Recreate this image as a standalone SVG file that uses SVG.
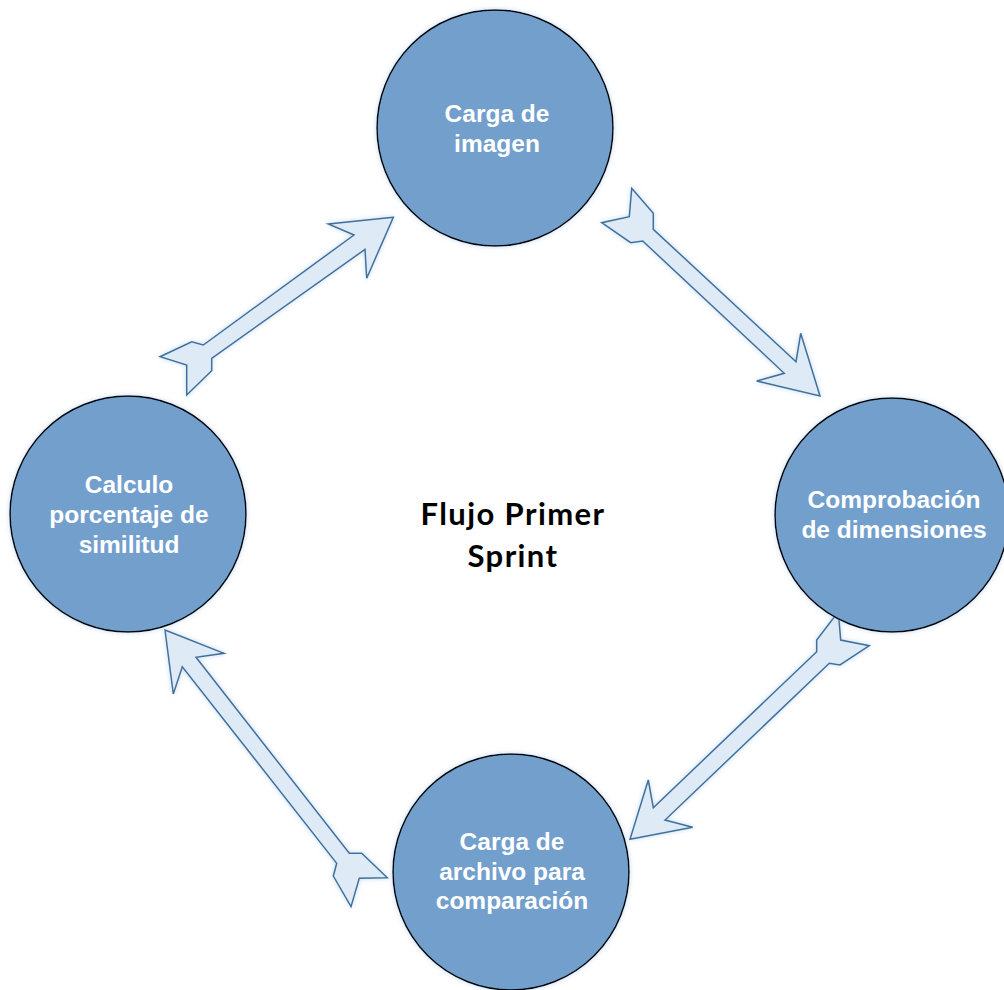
<svg xmlns="http://www.w3.org/2000/svg" width="1004" height="990" viewBox="0 0 1004 990">
  <defs>
    <filter id="glow" x="-20%" y="-20%" width="140%" height="140%">
      <feGaussianBlur in="SourceAlpha" stdDeviation="2.5" result="b"/>
      <feFlood flood-color="#9DC3E6" flood-opacity="0.6"/>
      <feComposite in2="b" operator="in" result="s"/>
      <feMerge><feMergeNode in="s"/><feMergeNode in="SourceGraphic"/></feMerge>
    </filter>
  </defs>
  <style>
    .node circle { fill: #739FCD; stroke: #000000; stroke-width: 1.5; filter: url(#glow); }
    .node text { font-family: "Liberation Sans", Arial, sans-serif; font-weight: bold; font-size: 24.5px; fill: #FFFFFF; text-anchor: middle; }
    .arrow { fill: #DEEAF6; stroke: #41719C; stroke-width: 1.5; stroke-linejoin: miter; filter: url(#glow); }
    .title { font-family: Lato, "Open Sans", sans-serif; font-weight: bold; font-size: 31px; letter-spacing: 1.4px; fill: #000000; text-anchor: middle; }
  </style>
  <rect width="1004" height="990" fill="#FFFFFF"/>

  <g id="connectors">
    <polygon class="arrow" points="393.3,217.3 328.3,224 354,235 203.3,345 191.7,341.7 160,356.7 186.7,365 186.7,395 211.7,370.7 211.7,358.3 365,249.3 366.7,278.3"/>
    <polygon class="arrow" points="631.7,188.3 653.3,213.3 653.3,229.3 796,361.7 800.7,333.3 820,396 756.7,381 784.3,373.3 642.7,241 630.7,242.7 601.7,222.7 629.3,216.7"/>
    <polygon class="arrow" points="838.3,611.7 840.7,640 869.3,645.7 840,665 829.3,663.3 665,820 692.7,827.3 630,839.3 648.3,780 653.3,807.7 816.7,651.7 816.7,640"/>
    <polygon class="arrow" points="165,630 224,653.3 196,657.3 349.3,853.3 361.7,853.3 387.3,877.7 359.3,878.3 351,906.7 333.3,876 336.7,863.3 182.3,666.7 173.3,694"/>
  </g>

  <g id="node-carga-imagen" class="node">
    <circle cx="495" cy="128" r="118"/>
    <text x="497" y="122">Carga de</text>
    <text x="497" y="152">imagen</text>
  </g>

  <g id="node-comprobacion" class="node">
    <circle cx="892" cy="515" r="117"/>
    <text x="894" y="508">Comprobación</text>
    <text x="894" y="538">de dimensiones</text>
  </g>

  <g id="node-carga-archivo" class="node">
    <circle cx="511" cy="872" r="118"/>
    <text x="512" y="850">Carga de</text>
    <text x="512" y="880">archivo para</text>
    <text x="512" y="909">comparación</text>
  </g>

  <g id="node-calculo" class="node">
    <circle cx="128" cy="514" r="118"/>
    <text x="129" y="493">Calculo</text>
    <text x="129" y="523">porcentaje de</text>
    <text x="129" y="553">similitud</text>
  </g>

  <g id="title">
    <text class="title" x="513" y="525">Flujo Primer</text>
    <text class="title" x="513" y="567">Sprint</text>
  </g>
</svg>
